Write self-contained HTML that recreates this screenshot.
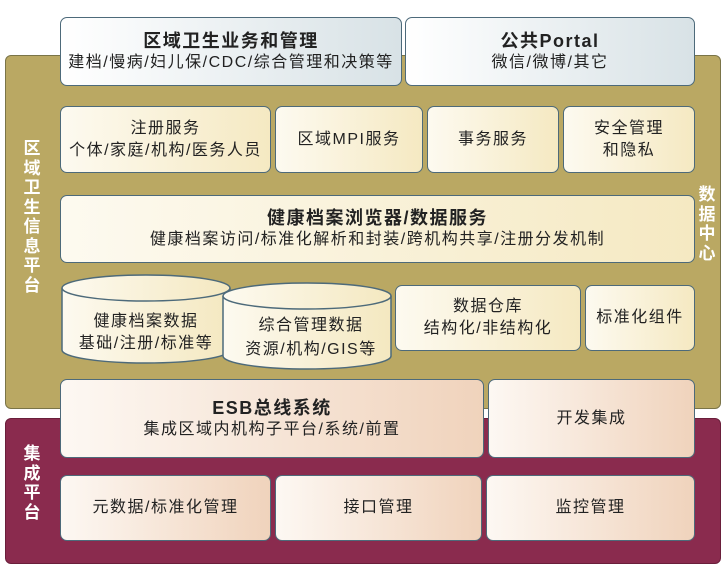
<!DOCTYPE html><html><head><meta charset="utf-8"><style>
body{margin:0;width:725px;height:568px;background:#fff;position:relative;overflow:hidden;font-family:"Liberation Sans","Noto Sans CJK SC",sans-serif;color:#222}
.a{position:absolute;box-sizing:border-box}
.p{border-radius:6px;border:1px solid #7a7448}
.b{border:1.5px solid #4d6a7a;border-radius:7px;display:flex;flex-direction:column;align-items:center;justify-content:center;text-align:center;font-size:16px;line-height:22px;letter-spacing:1.5px;white-space:nowrap}
.y{background:linear-gradient(90deg,#fdfaf0,#f5e9c2)}
.r{background:linear-gradient(90deg,#fdf8f3,#f0d3bc)}
.t{background:linear-gradient(90deg,#fff,#d8e2e6)}
.h{font-weight:bold;font-size:18px}
.v{color:#fff;font-weight:bold;font-size:17px;line-height:19.5px;width:20px;text-align:center}
</style></head><body>
<div class="a p" style="left:5px;top:55px;width:716px;height:354px;background:#baa863"></div>
<div class="a p" style="left:5px;top:418px;width:716px;height:146px;background:#8a2b4e;border-color:#6a1f3b"></div>
<div class="a v" style="left:22px;top:139px">区域卫生信息平台</div>
<div class="a v" style="left:22px;top:444px">集成平台</div>
<div class="a v" style="left:697px;top:185px">数据中心</div>
<div class="a b t" style="left:60px;top:17px;width:342px;height:69px"><span class="h">区域卫生业务和管理</span><span>建档/慢病/妇儿保/CDC/综合管理和决策等</span></div>
<div class="a b t" style="left:405px;top:17px;width:290px;height:69px"><span class="h">公共Portal</span><span>微信/微博/其它</span></div>
<div class="a b y" style="left:60px;top:106px;width:211px;height:67px"><span>注册服务</span><span>个体/家庭/机构/医务人员</span></div>
<div class="a b y" style="left:275px;top:106px;width:148px;height:67px">区域MPI服务</div>
<div class="a b y" style="left:427px;top:106px;width:132px;height:67px">事务服务</div>
<div class="a b y" style="left:563px;top:106px;width:132px;height:67px"><span>安全管理</span><span>和隐私</span></div>
<div class="a b y" style="left:60px;top:195px;width:635px;height:68px"><span class="h">健康档案浏览器/数据服务</span><span>健康档案访问/标准化解析和封装/跨机构共享/注册分发机制</span></div>
<svg class="a" style="left:0;top:0" width="725" height="568">
<defs><linearGradient id="g" x1="0" x2="1"><stop offset="0" stop-color="#fdfaf0"/><stop offset="1" stop-color="#f4e8c0"/></linearGradient></defs>
<path d="M62 288 V350 A84 13 0 0 0 230 350 V288" fill="url(#g)" stroke="#4d6a7a" stroke-width="1.5"/>
<ellipse cx="146" cy="288" rx="84" ry="13" fill="url(#g)" stroke="#4d6a7a" stroke-width="1.5"/>
<path d="M223 296 V356 A84 13 0 0 0 391 356 V296" fill="url(#g)" stroke="#4d6a7a" stroke-width="1.5"/>
<ellipse cx="307" cy="296" rx="84" ry="13" fill="url(#g)" stroke="#4d6a7a" stroke-width="1.5"/>
<g font-size="16" fill="#222" text-anchor="middle" letter-spacing="1.5" font-family="Liberation Sans,Noto Sans CJK SC,sans-serif">
<text x="146" y="326">健康档案数据</text><text x="146" y="348">基础/注册/标准等</text>
<text x="311" y="330">综合管理数据</text><text x="311" y="354">资源/机构/GIS等</text></g>
</svg>
<div class="a b y" style="left:395px;top:285px;width:186px;height:66px"><span>数据仓库</span><span>结构化/非结构化</span></div>
<div class="a b y" style="left:585px;top:285px;width:110px;height:66px">标准化组件</div>
<div class="a b r" style="left:60px;top:379px;width:424px;height:79px"><span class="h">ESB总线系统</span><span>集成区域内机构子平台/系统/前置</span></div>
<div class="a b r" style="left:488px;top:379px;width:207px;height:79px">开发集成</div>
<div class="a b r" style="left:60px;top:475px;width:211px;height:66px">元数据/标准化管理</div>
<div class="a b r" style="left:275px;top:475px;width:207px;height:66px">接口管理</div>
<div class="a b r" style="left:486px;top:475px;width:209px;height:66px">监控管理</div>
</body></html>
